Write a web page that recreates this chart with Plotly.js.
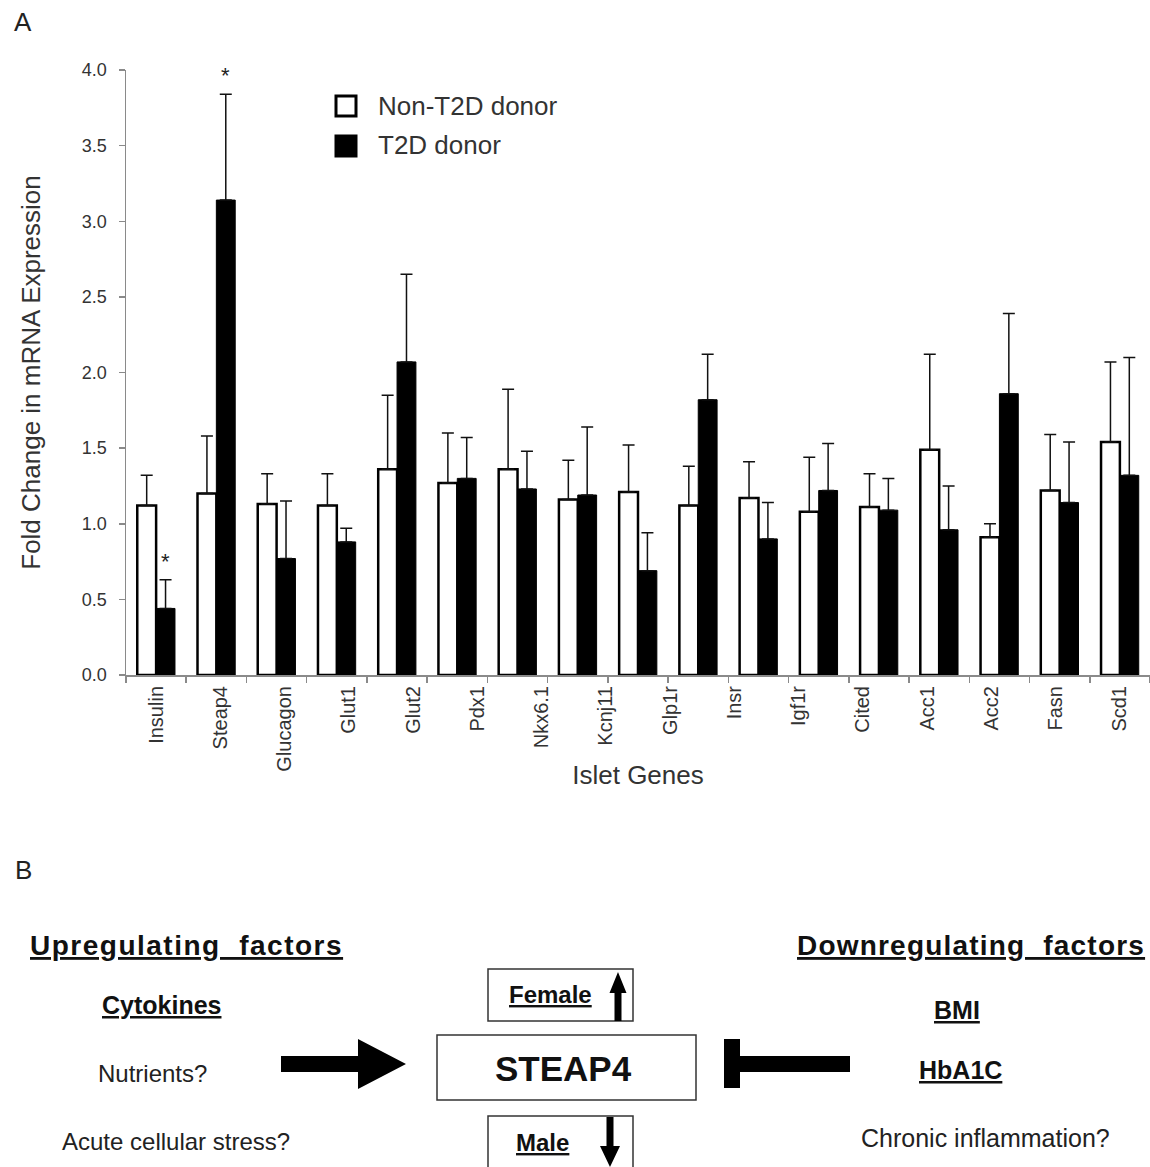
<!DOCTYPE html>
<html><head><meta charset="utf-8">
<script src="https://cdn.plot.ly/plotly-3.0.1.min.js"></script>
<style>html,body{margin:0;padding:0;background:#fff}</style>
</head><body>
<div id="chart" style="width:1150px;height:1167px"></div>
<script>
// ---------------- data (panel A) ----------------
// the plotted chart holds 17 bar pairs; 16 gene names are printed beneath the axis
const geneLabels = ["Insulin","Steap4","Glucagon","Glut1","Glut2","Pdx1","Nkx6.1","Kcnj11","Glp1r","Insr","Igf1r","Cited","Acc1","Acc2","Fasn","Scd1"];
const nonT2D    = [1.12,1.20,1.13,1.12,1.36,1.27,1.36,1.16,1.21,1.12,1.17,1.08,1.11,1.49,0.91,1.22,1.54];
const nonT2DErr = [0.20,0.38,0.20,0.21,0.49,0.33,0.53,0.26,0.31,0.26,0.24,0.36,0.22,0.63,0.09,0.37,0.53];
const t2d       = [0.44,3.14,0.77,0.88,2.07,1.30,1.23,1.19,0.69,1.82,0.90,1.22,1.09,0.96,1.86,1.14,1.32];
const t2dErr    = [0.19,0.70,0.38,0.09,0.58,0.27,0.25,0.45,0.25,0.30,0.24,0.31,0.21,0.29,0.53,0.40,0.78];
const t2dSignificant = [true,true,false,false,false,false,false,false,false,false,false,false,false,false,false,false,false];
const seriesNames = ["Non-T2D donor","T2D donor"];
const yTickVals = [0,0.5,1,1.5,2,2.5,3,3.5,4];
const yTickText = ["0.0","0.5","1.0","1.5","2.0","2.5","3.0","3.5","4.0"];

// ---------------- text (panel B) ----------------
const upFactors   = ["<b><u>Cytokines</u></b>","Nutrients?","Acute cellular stress?"];
const downFactors = ["<b><u>BMI</u></b>","<b><u>HbA1C</u></b>","Chronic inflammation?"];

// ---------------- layout helpers ----------------
const W = 1150, H = 1167;
const FONT = "Liberation Sans, Arial, Helvetica, sans-serif";
const px = x => x / W;
const py = y => 1 - y / H;
const poly = pts => 'M' + pts.map(p => px(p[0]).toFixed(5) + ',' + py(p[1]).toFixed(5)).join(' L') + ' Z';

const groups = nonT2D.map((_, i) => i);
const barW = 0.313;
const zeros = groups.map(() => 0);
const nG = groups.length;
const labelPos = geneLabels.map((_, j) => j * (nG - 1) / (geneLabels.length - 1));
const boundaries = Array.from({length: nG + 1}, (_, i) => i - 0.5);

const traces = [
  {
    type: 'bar', name: seriesNames[0], x: groups, y: nonT2D,
    width: barW, offset: -barW, showlegend: false,
    marker: {color: '#ffffff', line: {color: '#000', width: 2.5}},
    error_y: {type: 'data', symmetric: false, array: nonT2DErr, arrayminus: zeros,
              color: '#111', thickness: 1.5, width: 6}
  },
  {
    type: 'bar', name: seriesNames[1], x: groups, y: t2d,
    width: barW, offset: 0, showlegend: false,
    marker: {color: '#000000', line: {color: '#000', width: 1}},
    error_y: {type: 'data', symmetric: false, array: t2dErr, arrayminus: zeros,
              color: '#111', thickness: 1.5, width: 6}
  },
  { // carrier for the label axis
    type: 'scatter', mode: 'markers', x: [0], y: [null], xaxis: 'x2',
    showlegend: false, hoverinfo: 'skip', marker: {opacity: 0}
  }
];

const starAnnotations = groups.filter(i => t2dSignificant[i]).map(i => ({
  text: '*', x: i + barW / 2, y: t2d[i] + t2dErr[i], xref: 'x', yref: 'y',
  xanchor: 'center', yanchor: 'bottom', yshift: 4, showarrow: false,
  font: {family: FONT, size: 22, color: '#222'}
}));

const annotations = [
  {text: 'A', x: px(23), y: py(22), size: 26, color: '#222'},
  {text: 'B', x: px(23), y: py(870), size: 26, color: '#222'},
  {text: seriesNames[0], x: px(376), y: py(106), xanchor: 'left', size: 26, color: '#333'},
  {text: seriesNames[1], x: px(376), y: py(145), xanchor: 'left', size: 26, color: '#333'},
  {text: '<span style="letter-spacing:1.5px"><b><u>Upregulating&nbsp;&nbsp;factors</u></b></span>', x: px(186), y: py(945), size: 28},
  {text: '<span style="letter-spacing:1.2px"><b><u>Downregulating&nbsp;&nbsp;factors</u></b></span>', x: px(795), y: py(945), size: 28, xanchor: 'left'},
  {text: upFactors[0], x: px(161), y: py(1005), size: 25},
  {text: upFactors[1], x: px(152), y: py(1073), size: 24, color: '#222'},
  {text: upFactors[2], x: px(176), y: py(1141), size: 24, color: '#222'},
  {text: '<b><u>Female</u></b>', x: px(550), y: py(995), size: 24},
  {text: '<b>STEAP4</b>', x: px(563), y: py(1068), size: 35},
  {text: '<b><u>Male</u></b>', x: px(542), y: py(1142), size: 24},
  {text: downFactors[0], x: px(957), y: py(1010), size: 25},
  {text: downFactors[1], x: px(960), y: py(1070), size: 25},
  {text: downFactors[2], x: px(985), y: py(1138), size: 25, color: '#222'}
].map(a => ({
  text: a.text, x: a.x, y: a.y, xref: 'paper', yref: 'paper',
  xanchor: a.xanchor || 'center', yanchor: 'middle', showarrow: false,
  font: {family: FONT, size: a.size || 22, color: a.color || '#111'}
})).concat(starAnnotations);

const rectShape = (x0, y0, x1, y1, fill, lw, lc) => ({
  type: 'rect', xref: 'paper', yref: 'paper', layer: 'below',
  x0: px(x0), x1: px(x1), y0: py(y1), y1: py(y0),
  fillcolor: fill, line: {color: lc || '#000', width: lw}
});
const pathShape = pts => ({
  type: 'path', xref: 'paper', yref: 'paper', path: poly(pts),
  fillcolor: '#000', line: {width: 0}
});

const shapes = [
  // legend keys
  rectShape(336, 96, 356, 116, '#fff', 3),
  rectShape(336, 136, 356, 156, '#000', 3),
  // panel B boxes
  rectShape(488, 969, 633, 1021, 'rgba(0,0,0,0)', 1.5, '#333'),
  rectShape(437, 1035, 696, 1100, 'rgba(0,0,0,0)', 1.5, '#333'),
  rectShape(488, 1116, 633, 1200, 'rgba(0,0,0,0)', 1.5, '#333'),
  // up / down arrows
  pathShape([[614.5,1021],[614.5,993],[609.5,993],[618,972],[626.5,993],[621.5,993],[621.5,1021]]),
  pathShape([[606.5,1117],[613.5,1117],[613.5,1146],[620,1146],[610,1167],[600,1146],[606.5,1146]]),
  // activating arrow
  pathShape([[281,1056],[358,1056],[358,1039],[406,1064],[358,1089],[358,1072],[281,1072]]),
  // inhibiting bar
  pathShape([[724,1039],[740,1039],[740,1056],[850,1056],[850,1072],[740,1072],[740,1088],[724,1088]])
];

const layout = {
  width: W, height: H,
  margin: {l: 0, r: 0, t: 0, b: 0, pad: 0},
  paper_bgcolor: '#fff', plot_bgcolor: '#fff',
  barmode: 'overlay',
  showlegend: false,
  font: {family: FONT, color: '#333'},
  xaxis: {
    domain: [px(126), 1], anchor: 'y',
    range: [-0.5, nG - 0.5], fixedrange: true,
    tickmode: 'array', tickvals: boundaries, ticktext: boundaries.map(() => ''),
    ticks: 'outside', ticklen: 6, tickcolor: '#8a8a8a', tickwidth: 1.5,
    showline: true, linecolor: '#8a8a8a', linewidth: 1.5,
    showgrid: false, zeroline: false,
    title: {text: 'Islet Genes' + '\u00a0'.repeat(9), standoff: 82,
            font: {family: FONT, size: 26, color: '#333'}}
  },
  xaxis2: {
    overlaying: 'x', anchor: 'y', side: 'bottom',
    domain: [px(126), 1], range: [-0.5, nG - 0.5], fixedrange: true,
    tickmode: 'array', tickvals: labelPos, ticktext: geneLabels,
    tickangle: -90, ticks: '', ticklen: 0, ticklabelstandoff: 6,
    tickfont: {family: FONT, size: 20, color: '#333'},
    showline: false, showgrid: false, zeroline: false
  },
  yaxis: {
    domain: [py(675), py(70)], anchor: 'x',
    range: [0, 4], fixedrange: true,
    tickmode: 'array', tickvals: yTickVals, ticktext: yTickText,
    ticks: 'outside', ticklen: 6, tickcolor: '#8a8a8a', tickwidth: 1.5,
    ticklabelstandoff: 8,
    tickfont: {family: FONT, size: 18, color: '#333'},
    showline: true, linecolor: '#8a8a8a', linewidth: 1.5,
    showgrid: false, zeroline: false,
    title: {text: 'Fold Change in mRNA Expression', standoff: 34,
            font: {family: FONT, size: 26, color: '#333'}}
  },
  annotations: annotations,
  shapes: shapes
};

Plotly.newPlot('chart', traces, layout, {displayModeBar: false, staticPlot: true});
</script>
</body></html>
